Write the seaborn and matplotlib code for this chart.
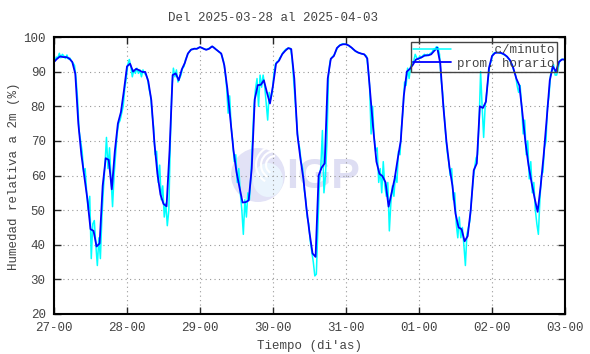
import pandas as pd
import seaborn as sns
import matplotlib.pyplot as plt
import matplotlib.dates as mdates
from matplotlib.patches import Ellipse, Arc

start = '2025-03-27 00:00'
xtick_fmt = '%d-%H'

# promedio horario (%), una lectura por hora desde 27-00 hasta 03-00
prom_horario = [
    92.8, 93.7, 94.4, 94.2, 94.2, 93.8, 92.8, 89.4, 75, 66, 59.5, 53,
    44.5, 44, 39.5, 40.4, 57, 65, 64.5, 56, 67, 75, 78.3, 84.6,
    91.5, 92.3, 90, 90.8, 90.4, 89.9, 89.9, 87.2, 81.7, 69.5, 60.5, 54.5,
    51.8, 51.1, 67.3, 89, 89.5, 87.5, 90.6, 92.5, 95.2, 96.3, 96.6, 96.6,
    97.1, 96.7, 96.3, 96.6, 97.3, 96.6, 95.9, 95.2, 91.8, 85, 76, 67.3,
    61, 56.5, 52.2, 52.3, 52.8, 62, 82, 86.1, 86.2, 87.5, 84, 80.8,
    86, 92.3, 93.2, 95, 96, 96.8, 96.5, 88, 72, 65, 59, 50.5,
    43.5, 37.5, 36.5, 60, 62.3, 63.5, 88, 93.7, 94.5, 96.8, 97.6, 97.9,
    97.9, 97.5, 96.8, 96, 95.5, 95.2, 95, 93.8, 83.5, 73, 64, 60.5,
    59.8, 58, 51, 55, 59.1, 64.8, 70, 83, 90, 90.8, 92, 93.5,
    93.8, 94.2, 94.7, 94.7, 95, 96, 96.9, 92.3, 80, 70, 62.5, 57,
    49, 45, 44.5, 41, 42.5, 50, 61.5, 63.5, 80, 79.5, 81.3, 91,
    94.5, 95.4, 95.5, 95.4, 95, 94.3, 93.2, 91, 88, 86, 78, 69.5,
    63, 58, 53.5, 49.5, 57, 66, 76.5, 87.5, 91.5, 90, 92.8, 93.5,
    93.5,
]

# c/minuto (%), dos lecturas por hora (a los :15 y :45)
c_minuto = [
    # 27
    93.0, 94.2, 94.0, 95.3, 94.0, 95.0, 94.5, 93.8, 94.8, 93.6, 93.9, 93.0,
    92.5, 91.8, 88, 82, 73, 70, 67, 61, 62, 55, 50, 54,
    36, 46, 47, 40, 34, 42, 36, 48, 56, 63, 71, 62,
    68, 59, 51, 60, 66, 72, 75, 76, 78, 80, 85, 88,
    # 28
    92, 93.5, 91.5, 88.5, 90.5, 89.5, 91, 89.5, 90.5, 88.5, 90.5, 89.5,
    89, 88, 85, 83, 78, 74, 66, 67, 58, 63, 53, 57,
    48, 52, 45.5, 50, 70, 85, 91, 88.5, 90.5, 87, 88, 89,
    91, 91.5, 93.5, 94.5, 95.5, 96, 96.5, 96.4, 96.7, 96.5, 96.8, 97,
    # 29
    97, 96.8, 96.5, 96.5, 96.4, 96.6, 96.9, 97.2, 97.2, 96.9, 96.4, 96.1,
    95.7, 95.4, 94.5, 93, 90, 85.5, 78, 83, 74, 70, 64, 66,
    58, 62, 55, 50, 43, 53, 48, 55, 53, 60, 70, 80,
    85, 88, 80, 89, 85.5, 89, 86, 81, 76, 84, 82, 84,
    # 30
    89, 92, 92.8, 93, 94, 94.5, 95.5, 96, 96.5, 96.6, 96.8, 96.7,
    94, 88, 82, 76, 70, 68, 64, 62, 56, 53, 48, 46,
    41, 38, 35, 31, 31.5, 45, 58, 63, 73, 55, 60, 70,
    89, 93, 94, 94.5, 95, 96, 97, 97.5, 97.8, 98, 98, 97.9,
    # 31
    97.8, 97.6, 97.2, 97, 96.5, 96.2, 95.8, 95.6, 95.4, 95.3, 95.1, 95,
    94.8, 94.5, 91, 86, 72, 80, 71, 67, 68, 58, 62, 55,
    64, 57, 54, 58, 44, 52, 57, 54, 60, 58, 67, 66,
    74, 79, 87, 86, 91, 88, 91.5, 92.5, 93, 95, 94, 93.5,
    # 01
    94.5, 94, 94.6, 95, 94.5, 95, 94.8, 95.3, 95.5, 96.5, 96.6, 97.2,
    97, 95, 88, 84, 78, 72, 67, 64, 60, 62, 53, 55,
    46, 42, 48, 42, 45, 40, 34, 43, 45, 47, 53, 58,
    62, 65, 66, 75, 90, 80, 71, 80, 84, 88, 92, 93,
    # 02
    95, 95.4, 95.6, 95.5, 95.4, 95.4, 95.2, 95, 94.7, 94.5, 93.9, 93.5,
    92.5, 91.8, 90, 89, 86, 84, 86, 80, 72, 76, 66, 70,
    59, 64, 55, 58, 50, 46, 43, 53, 60, 61, 68, 70,
    80, 83, 89, 91, 92, 89, 89, 91, 93, 93.5, 93.6, 93.4,
]

sns.set_style('ticks')
plt.rcParams['font.family'] = ['Liberation Mono', 'DejaVu Sans Mono']
plt.rcParams['text.color'] = '#444444'

t0 = pd.Timestamp(start)
horario = pd.DataFrame({
    't': pd.date_range(t0, periods=len(prom_horario), freq='h'),
    'rh': prom_horario,
})
minuto = pd.DataFrame({
    't': pd.date_range(t0 + pd.Timedelta(minutes=15), periods=len(c_minuto), freq='30min'),
    'rh': c_minuto,
})

fig = plt.figure(figsize=(5.9, 3.54), dpi=100)
ax = fig.add_axes([54 / 590, 1 - 314 / 354, 511 / 590, 277 / 354])

# marca de agua IGP
wm = '#e2e2f6'
ax.add_patch(Ellipse((258 / 590, 1 - 175 / 354), 54 / 590, 54 / 354,
                     transform=fig.transFigure, color=wm, zorder=0.3, lw=0))
ax.add_patch(Ellipse((268 / 590, 1 - 180 / 354), 30 / 590, 34 / 354,
                     transform=fig.transFigure, color='#eaf4fd', zorder=0.31, lw=0))
for r in (18, 28, 38):
    ax.add_patch(Arc((275 / 590, 1 - 165 / 354), r / 590, r / 354, theta1=90, theta2=250,
                     transform=fig.transFigure, color='white', lw=1.5, zorder=0.32))
ax.text(323 / 590, 1 - 177 / 354, 'IGP', transform=fig.transFigure,
        fontsize=31, fontweight='bold', family='Liberation Sans',
        color='#dedef3', ha='center', va='center', zorder=0.33)

sns.lineplot(data=minuto, x='t', y='rh', color='#00ffff', lw=1.1,
             label='     c/minuto', ax=ax)
sns.lineplot(data=horario, x='t', y='rh', color='#0000ff', lw=1.3,
             label='prom. horario', ax=ax)

ax.set_xlim(t0, t0 + pd.Timedelta(days=7))
ax.set_ylim(20, 100)
ax.set_yticks(range(20, 101, 10))
ax.xaxis.set_major_locator(mdates.DayLocator())
ax.xaxis.set_major_formatter(mdates.DateFormatter(xtick_fmt))
ax.tick_params(direction='in', top=True, right=True, length=5, width=1,
               labelsize=9, labelcolor='#444444', pad=6)
ax.grid(True, ls=(0, (1, 3)), color='#999999', lw=0.8)
for s in ax.spines.values():
    s.set_linewidth(1.5)
    s.set_color('black')

ax.set_xlabel('')
ax.set_ylabel('')
fig.text(309.5 / 590, 1 - 346 / 354, "Tiempo (di'as)", fontsize=9,
         ha='center', va='center')
fig.text(14 / 590, 1 - 176 / 354, 'Humedad relativa a 2m (%)', fontsize=9,
         rotation=90, ha='center', va='center')
fig.text(273.5 / 590, 1 - 18 / 354, 'Del 2025-03-28 al 2025-04-03', fontsize=9,
         ha='center', va='center')

leg = ax.legend(loc='upper right', bbox_to_anchor=(0.984, 0.982), fontsize=9,
                frameon=True, fancybox=False, framealpha=1, facecolor='none',
                edgecolor='#444444', borderaxespad=0, borderpad=0.2,
                labelspacing=0.1, handlelength=3.0, handletextpad=0.5)
leg.get_frame().set_linewidth(1)

fig.savefig('out.png', dpi=100)
